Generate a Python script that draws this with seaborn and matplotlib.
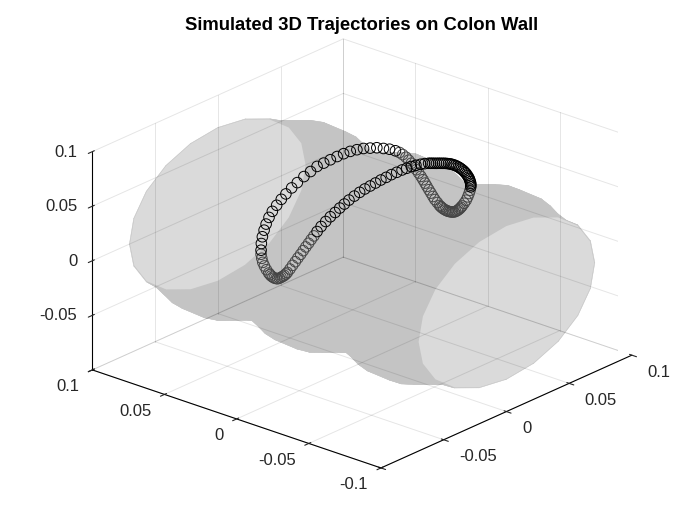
import numpy as np
import matplotlib
matplotlib.use("Agg")
import matplotlib.pyplot as plt
import seaborn as sns
from mpl_toolkits.mplot3d.art3d import Poly3DCollection

# tube radius read along the y axis
tube_y = [0.1, 0.092, 0.084, 0.076, 0.068, 0.06, 0.052, 0.044, 0.036, 0.028, 0.02, 0.012, 0.004,
          -0.004, -0.012, -0.02, -0.028, -0.036, -0.044, -0.052, -0.06, -0.068, -0.076, -0.084, -0.092, -0.1]
tube_r = [0.0705, 0.0720, 0.0754, 0.0789, 0.0805, 0.0793, 0.0759, 0.0724, 0.0705, 0.0715, 0.0747, 0.0784, 0.0804,
          0.0797, 0.0766, 0.0729, 0.0707, 0.0711, 0.0741, 0.0778, 0.0802, 0.0800, 0.0773, 0.0735, 0.0709, 0.0705]
cap_r = 0.07

# trajectory, y and z, split where it passes behind the wall
arc_top_y = [.0700, .0698, .0691, .0679, .0665, .0645, .0622, .0592, .0560, .0528, .0488, .0449, .0403, .0357,
             .0312, .0266, .0220, .0173, .0128, .0082, .0036, -.0010, -.0056, -.0102, -.0148, -.0190, -.0231]
arc_top_z = [-.0285, -.0223, -.0158, -.0092, -.0030, .0040, .0106, .0175, .0244, .0308, .0381, .0447, .0523, .0590,
             .0657, .0708, .0759, .0810, .0856, .0898, .0934, .0966, .0990, .1014, .1028, .1040, .1044]

behind_right_y = [-.0259, -.0281, -.0304, -.0323, -.0341, -.0360, -.0376, -.0392, -.0408, -.0422, -.0436, -.0449,
                  -.0463, -.0477, -.0491, -.0504, -.0521, -.0537, -.0546, -.0555, -.0565, -.0576, -.0586, -.0596,
                  -.0606, -.0617, -.0627, -.0638, -.0648, -.0659, -.0668, -.0677, -.0685, -.0693,
                  -.0707, -.0721, -.0732, -.0741, -.0748]
behind_right_z = [.1041, .1032, .1018, .0999, .0979, .0960, .0936, .0913, .0889, .0865, .0840, .0816,
                  .0791, .0767, .0742, .0720, .0700, .0680, .0673, .0666, .0661, .0657, .0655, .0654,
                  .0655, .0657, .0661, .0666, .0676, .0688, .0701, .0715, .0730, .0746,
                  .0777, .0811, .0847, .0882, .0915]

arc_front_y = [-.0753, -.0753, -.0753, -.0750, -.0746, -.0742, -.0737, -.0730, -.0723, -.0715, -.0707, -.0698,
               -.0688, -.0678, -.0668, -.0657, -.0645, -.0634, -.0622, -.0611, -.0599, -.0585, -.0571, -.0558,
               -.0544, -.0530, -.0516, -.0502, -.0488, -.0475, -.0461,
               -.0433, -.0406, -.0373, -.0341, -.0309, -.0277, -.0240, -.0203,
               -.0167, -.0130, -.0093, -.0056, -.0019, .0017, .0054, .0091, .0123, .0155, .0187, .0220, .0252,
               .0284, .0312]
arc_front_z = [.0948, .0964, .0979, .0993, .1007, .1019, .1030, .1041, .1052, .1061, .1069, .1076,
               .1082, .1087, .1091, .1094, .1096, .1096, .1096, .1094, .1091, .1087, .1082, .1076,
               .1070, .1064, .1057, .1051, .1045, .1039, .1033,
               .1017, .0999, .0975, .0949, .0919, .0889, .0851, .0813,
               .0772, .0731, .0687, .0643, .0599, .0552, .0501, .0448, .0397, .0346, .0291, .0237, .0179,
               .0119, .0060]

behind_left_y = [.0334, .0353, .0371, .0390, .0408, .0426, .0445, .0463, .0482, .0500, .0518, .0528, .0539, .0550,
                 .0562, .0573, .0585, .0596, .0608, .0618, .0629, .0638, .0647, .0663, .0677, .0688, .0695, .0700]
behind_left_z = [.0010, -.0032, -.0074, -.0116, -.0158, -.0200, -.0242, -.0284, -.0326, -.0368, -.0407, -.0426,
                 -.0444, -.0458, -.0472, -.0484, -.0495, -.0498, -.0499, -.0495, -.0490, -.0481, -.0471, -.0447,
                 -.0419, -.0391, -.0357, -.0322]

x_ticks = [-0.1, -0.05, 0, 0.05, 0.1]
x_labels = ["", "-0.05", "0", "0.05", "0.1"]
y_ticks = [-0.1, -0.05, 0, 0.05, 0.1]
y_labels = ["-0.1", "-0.05", "0", "0.05", "0.1"]
z_ticks = [-0.1, -0.05, 0, 0.05, 0.1]
z_labels = ["", "-0.05", "0", "0.05", "0.1"]

sns.set_style("white")
plt.rcParams["font.family"] = ["Liberation Sans", "DejaVu Sans"]

TUBE = "#c4c4c4"
CAP = "#dadada"
TEXT = "#262626"

fig = plt.figure(figsize=(7, 5.25), dpi=100)
ax = fig.add_axes([5 / 700, 2 / 525, 1, 1], projection="3d", computed_zorder=False)
ax.set_proj_type("ortho")
ax.view_init(elev=23, azim=-139)
ax.set_box_aspect((1, 1, 0.62), zoom=1.092)
ax.set_xlim(-0.1, 0.1, view_margin=0)
ax.set_ylim(-0.1, 0.1, view_margin=0)
ax.set_zlim(-0.1, 0.1, view_margin=0)
ax.patch.set_alpha(0)

# tick text alignment follows the reference: x left, y and z right
axis_setup = [(ax.xaxis, x_ticks, x_labels, "left", 2.7),
              (ax.yaxis, y_ticks, y_labels, "right", 2),
              (ax.zaxis, z_ticks, z_labels, "right", -2.5)]
for axis, ticks, labels, ha, pad in axis_setup:
    axis.set_ticks(ticks)
    axis.set_ticklabels(labels, fontsize=12, color=TEXT, ha=ha, va="center")
    axis.set_tick_params(pad=pad)
    axis.pane.set_visible(False)
    axis.line.set_color("black")
    axis.line.set_linewidth(0.8)
    axis._axinfo["tick"]["color"] = "black"
ax.grid(False)
ax.zaxis.set_ticks_position("upper")

theta = np.deg2rad(np.arange(0, 361, 18))
radius = np.array(tube_r)
tube_x = np.outer(radius, np.cos(theta))
tube_z = np.outer(radius, np.sin(theta))
tube_yy = np.repeat(np.array(tube_y)[:, None], len(theta), axis=1)
ax.plot_surface(tube_x, tube_yy, tube_z, color=TUBE, edgecolor=TUBE, shade=False, linewidth=0.3,
                rstride=1, cstride=1, zorder=2)

for end_y in [tube_y[0], tube_y[-1]]:
    ring = list(zip(cap_r * np.cos(theta), np.full(len(theta), end_y), cap_r * np.sin(theta)))
    ax.add_collection3d(Poly3DCollection([ring], facecolors=CAP, edgecolors="none", zorder=3))

# grid on the back walls and floor, on top so it shows through the caps
grid_kw = dict(color="black", alpha=0.1, linewidth=0.7, zorder=4)
for t in x_ticks:
    ax.plot([t, t], [0.1, 0.1], [-0.1, 0.1], **grid_kw)
    ax.plot([t, t], [-0.1, 0.1], [-0.1, -0.1], **grid_kw)
for t in y_ticks:
    ax.plot([0.1, 0.1], [t, t], [-0.1, 0.1], **grid_kw)
    ax.plot([-0.1, 0.1], [t, t], [-0.1, -0.1], **grid_kw)
for t in z_ticks:
    ax.plot([-0.1, 0.1], [0.1, 0.1], [t, t], **grid_kw)
    ax.plot([0.1, 0.1], [-0.1, 0.1], [t, t], **grid_kw)

# parts of the path behind the wall show up grey through it
for seg_y, seg_z in [(behind_right_y, behind_right_z), (behind_left_y, behind_left_z)]:
    ax.scatter(np.zeros(len(seg_y)), seg_y, seg_z, s=58, facecolors="none", edgecolors="#454545",
               linewidths=0.7, depthshade=False, zorder=5)
for seg_y, seg_z in [(arc_top_y, arc_top_z), (arc_front_y, arc_front_z)]:
    ax.scatter(np.zeros(len(seg_y)), seg_y, seg_z, s=58, facecolors="none", edgecolors="black",
               linewidths=0.7, depthshade=False, zorder=6)

fig.suptitle("Simulated 3D Trajectories on Colon Wall", x=362 / 700, y=1 - 25 / 525, va="center",
             fontsize=13.3, fontweight="bold", color="black")

fig.savefig("out.png", dpi=100)
